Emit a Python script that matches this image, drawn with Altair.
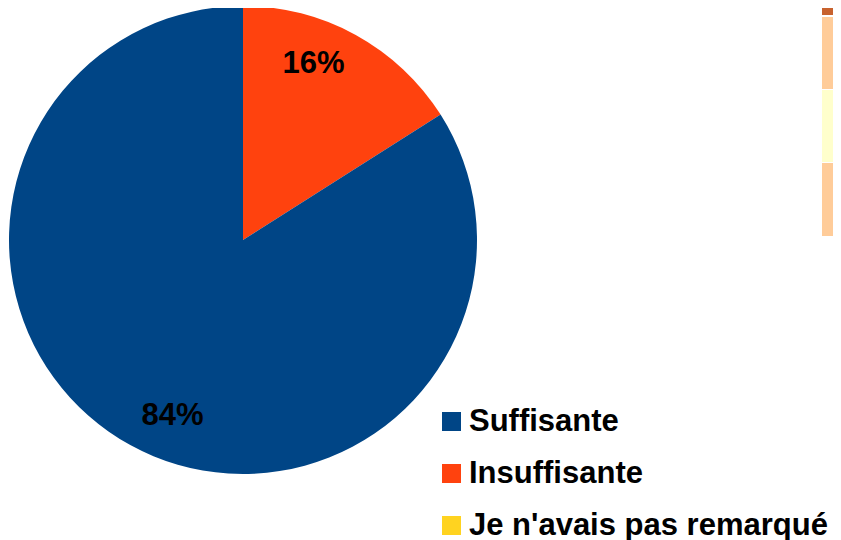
import altair as alt
import pandas as pd

categories = ["Insuffisante", "Suffisante", "Je n'avais pas remarqué"]
values = [16, 84, 0]
labels = ["16%", "84%", ""]
order = [1, 2, 3]
legend_order = ["Suffisante", "Insuffisante", "Je n'avais pas remarqué"]
colors = ["#004586", "#FF420E", "#FFD320"]

df = pd.DataFrame({"cat": categories, "value": values, "label": labels, "ord": order})

FONT = "Liberation Sans"

base = alt.Chart(df).encode(
    theta=alt.Theta("value:Q", stack=True),
    order=alt.Order("ord:Q"),
)

pie = base.mark_arc(outerRadius=234, stroke=None).encode(
    x=alt.value(235),
    y=alt.value(232),
    color=alt.Color(
        "cat:N",
        scale=alt.Scale(domain=legend_order, range=colors),
        legend=alt.Legend(
            title=None,
            orient="none",
            legendX=428,
            legendY=398,
            padding=0,
            symbolType="square",
            symbolSize=361,
            symbolStrokeWidth=0,
            symbolOpacity=1,
            labelFont=FONT,
            labelFontSize=31,
            labelFontWeight="bold",
            labelColor="#000000",
            labelLimit=500,
            labelOffset=2,
            rowPadding=20,
        ),
    ),
)

text = base.mark_text(
    radius=190,
    thetaOffset=-0.122,
    font=FONT,
    fontSize=31,
    fontWeight="bold",
    color="#000000",
).encode(
    x=alt.value(235),
    y=alt.value(232),
    text="label:N",
)

# decorative strips at the right edge (part of neighbouring content)
strip_specs = [
    ("#C8622E", -8, 7),
    ("#FFCC99", 9, 81),
    ("#FFFFCC", 82, 154),
    ("#FFCC99", 155, 228),
]
strips = []
for col, y0, y1 in strip_specs:
    strips.append(
        alt.Chart(alt.Data(values=[{"a": 1}])).mark_rect(color=col).encode(
            x=alt.value(814), x2=alt.value(840), y=alt.value(y0), y2=alt.value(y1)
        )
    )

chart = alt.layer(pie, text, *strips).properties(
    width=825,
    height=532,
    padding=0,
    autosize=alt.AutoSizeParams(type="none"),
).configure_view(stroke=None)

chart.save("out.html", embed_options={"renderer": "svg", "actions": False})
